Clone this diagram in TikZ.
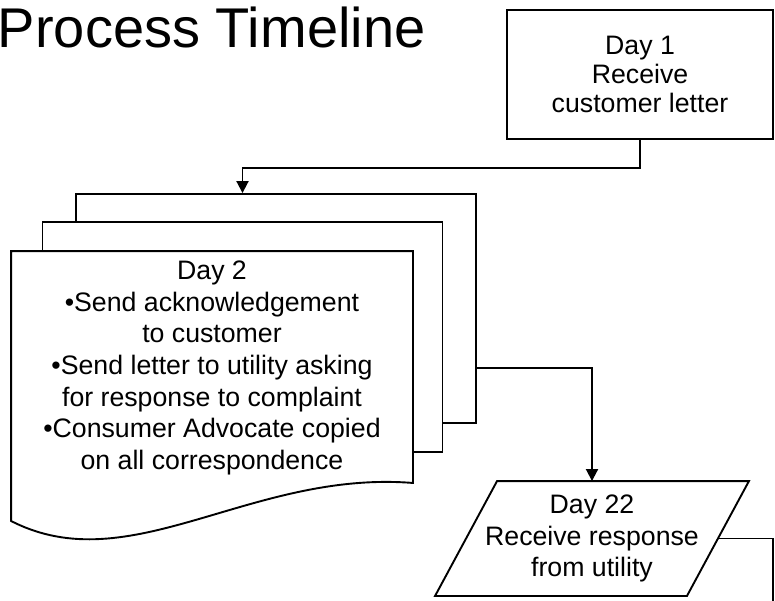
\documentclass[tikz,border=0pt]{standalone}
\usepackage{fontspec}
\setmainfont{Liberation Sans}
\usetikzlibrary{arrows.meta,calc,positioning}
\tikzset{box/.style={draw, rectangle, line width=1.9pt, align=center, inner sep=4pt}}
\tikzstyle{sheet}=[box, fill=white, minimum width=400pt, minimum height=230pt]
\tikzset{txt/.style={align=center, inner sep=0pt}}

\begin{document}
\begin{tikzpicture}[x=1pt, y=-1pt, >={Triangle[width=12pt,length=12pt]}, line width=1.9pt, font=\fontsize{26.7}{31.6}\selectfont]
\useasboundingbox (0,0) rectangle (775,600);
\clip (0,0) rectangle (775,600);
\fill[white] (0,0) rectangle (775,600);
% title
\node[anchor=base west, inner sep=0pt, font=\fontsize{56}{60}\selectfont] (title) at (-3,47) {Process Timeline};
% day 1
\node[box, minimum width=266pt, minimum height=129pt, font=\fontsize{26.7}{29}\selectfont] (D1) at (640,74.5) {Day 1\\Receive\\customer letter};
% day 2, stack of letters
\node[sheet, minimum height=229pt] (D2back) at (276,308.5) {};
\node[sheet] (D2mid) at (242.5,337) {};
\node[sheet, draw=none, fill=none, minimum height=268pt] (D2front) at (212,386) {};
\draw[fill=white] (D2front.north west) -- (D2front.north east) -- ([yshift=38pt]D2front.south east)
  .. controls (250,470) and (130,582) .. (D2front.south west) -- cycle;
\node[txt] (D2) at (212,368) {Day 2\\•Send acknowledgement\\to customer\\•Send letter to utility asking\\for response to complaint\\•Consumer Advocate copied\\on all correspondence};
% day 22, slanted box
\node[txt, minimum width=250pt, minimum height=113pt] (D22) at (592,538.5) {Day 22\\Receive response\\from utility};
\draw ($(D22.north west)+(31,0)$) -- ($(D22.north east)+(31,0)$) -- ($(D22.south east)+(-31,0)$)
  -- ($(D22.south west)+(-31,0)$) -- cycle;
\coordinate (next) at (773,620);
% connectors
\draw[->] (D1.south) -- ++(0,28) -| (D2back.north -| D2mid.north);
\draw[->] (D2.center -| D2back.east) -| (D22.north);
\draw (D22.east) -| (next);
\end{tikzpicture}
\end{document}
